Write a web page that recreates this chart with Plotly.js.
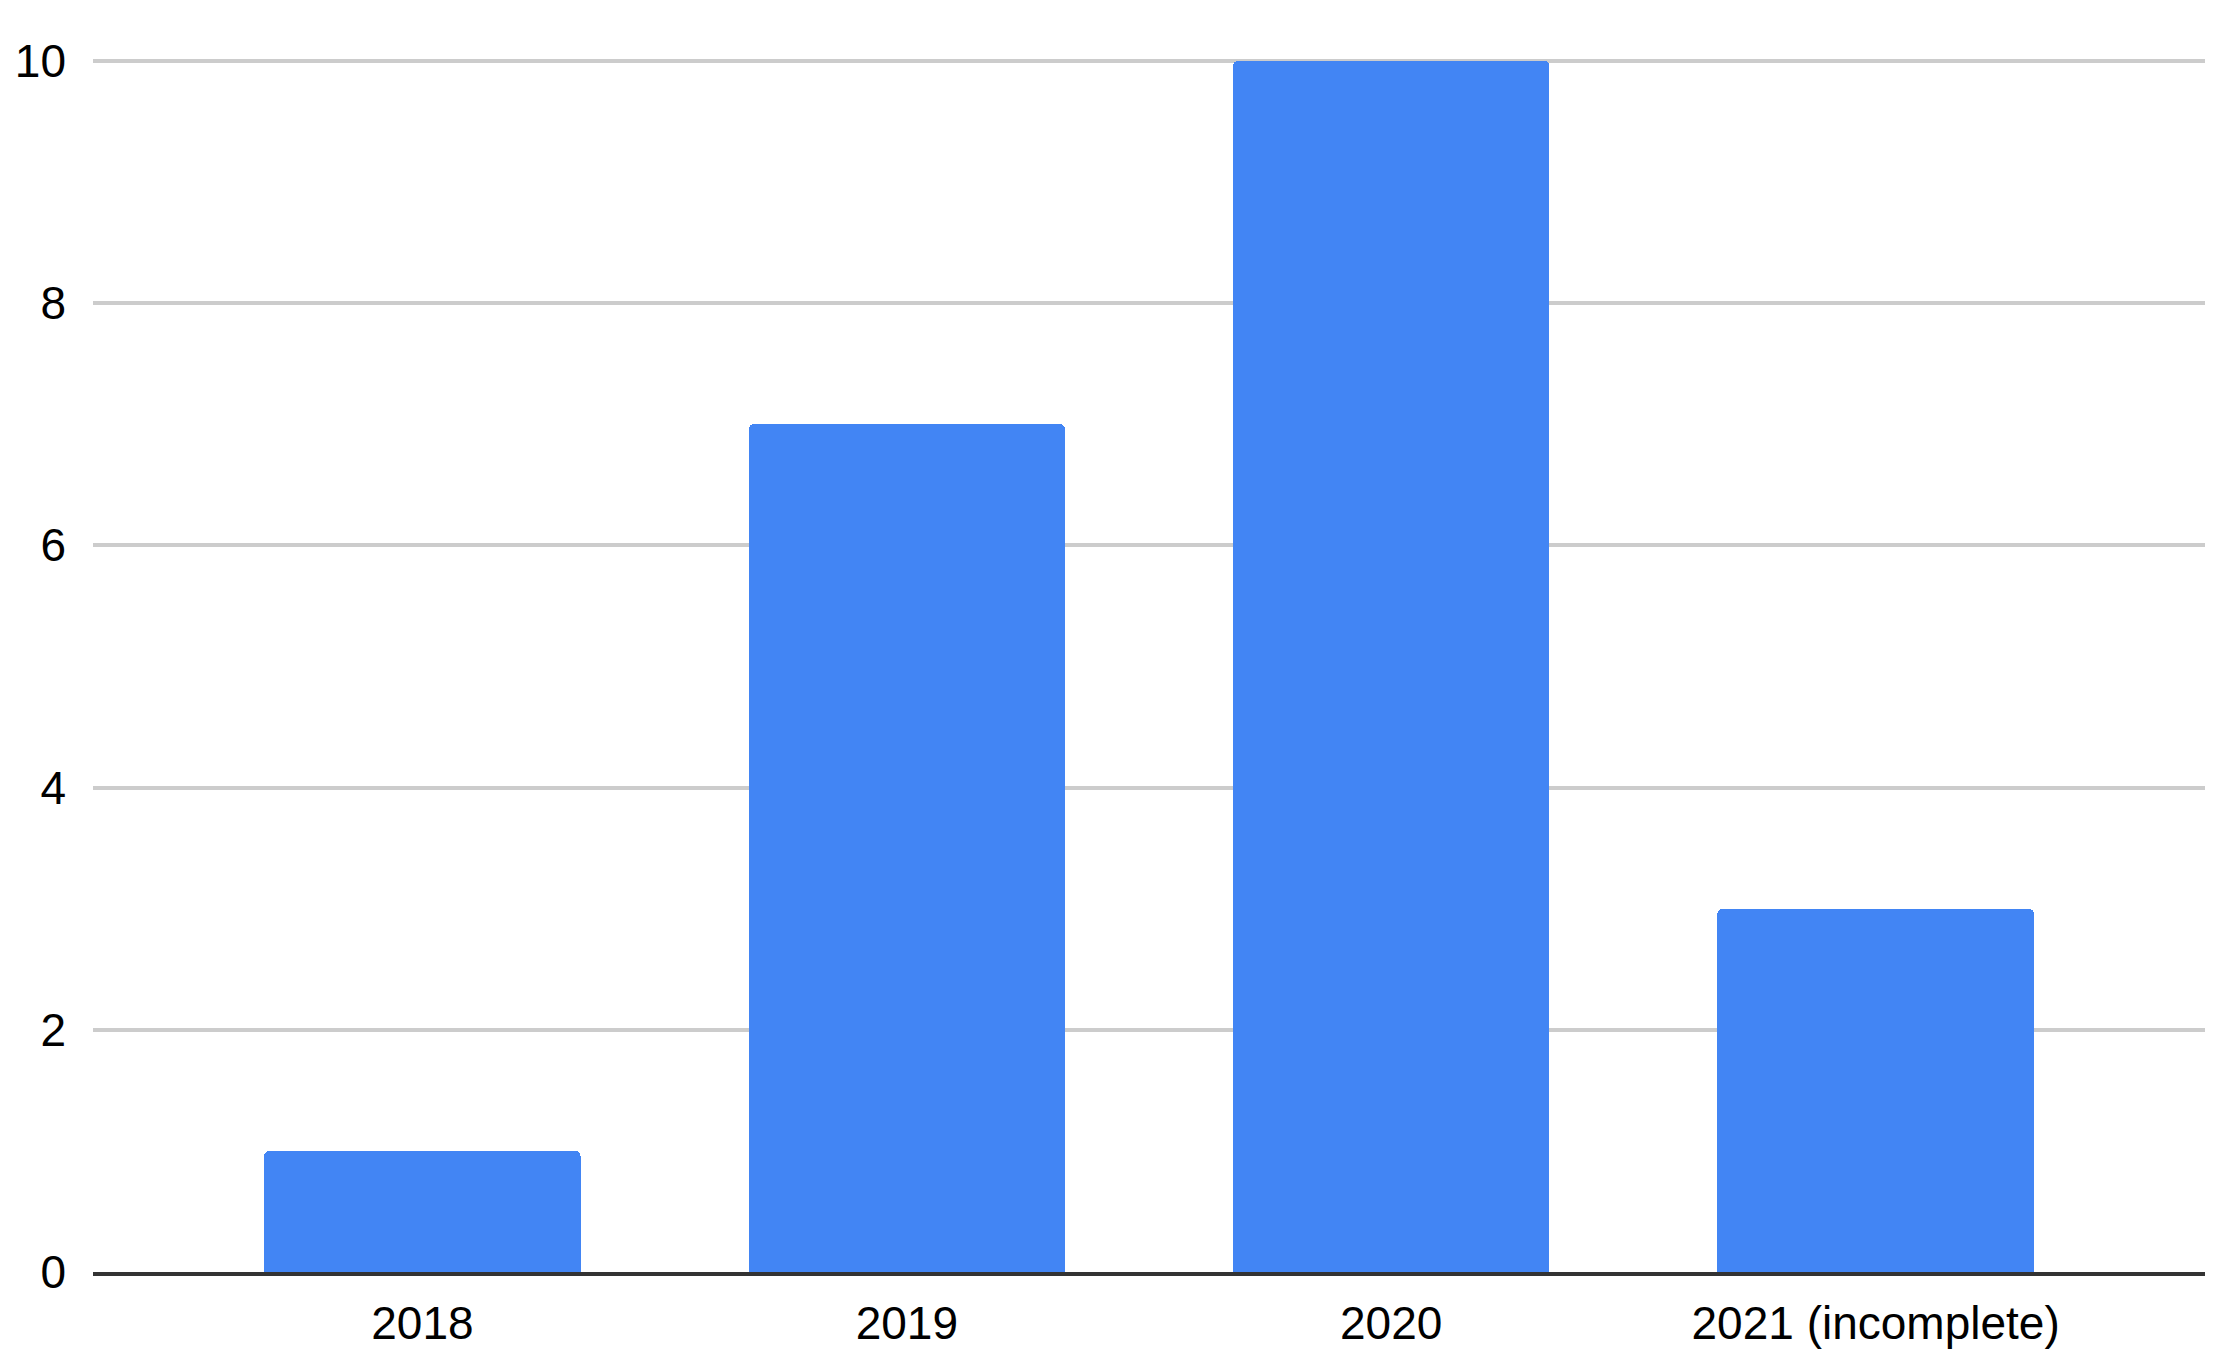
<!DOCTYPE html>
<html>
<head>
<meta charset="utf-8">
<script src="https://cdn.plot.ly/plotly-3.0.1.min.js"></script>
<style>
  html, body { margin: 0; padding: 0; background: #fff; }
  #chart { width: 2234px; height: 1369px; }
</style>
</head>
<body>
<div id="chart"></div>
<script>
// Data
const years = ["2018", "2019", "2020", "2021 (incomplete)"];
const counts = [1, 7, 10, 3];
const yTicks = [0, 2, 4, 6, 8, 10];

const trace = {
    x: years,
    y: counts,
    type: "bar",
    width: 0.653,
    marker: { color: "#4285F4", cornerradius: 5 },
    hoverinfo: "none"
};

const layout = {
    width: 2234,
    height: 1369,
    margin: { l: 93, r: 29, t: 56, b: 97 },
    paper_bgcolor: "#ffffff",
    plot_bgcolor: "#ffffff",
    font: { family: "Liberation Sans, Arial, sans-serif", size: 46, color: "#000000" },
    showlegend: false,
    bargap: 0,
    xaxis: {
        type: "category",
        range: [-0.68, 3.68],
        showgrid: false,
        zeroline: false,
        showline: true,
        linecolor: "#333333",
        linewidth: 4,
        ticks: "",
        ticklabelstandoff: 8,
        tickfont: { size: 46 }
    },
    yaxis: {
        range: [0, 10.04],
        tickvals: yTicks,
        showgrid: true,
        gridcolor: "#cccccc",
        gridwidth: 4,
        zeroline: false,
        showline: false,
        ticks: "",
        ticklabelstandoff: 26,
        tickfont: { size: 46 }
    }
};

Plotly.newPlot("chart", [trace], layout, { staticPlot: true });
</script>
</body>
</html>
